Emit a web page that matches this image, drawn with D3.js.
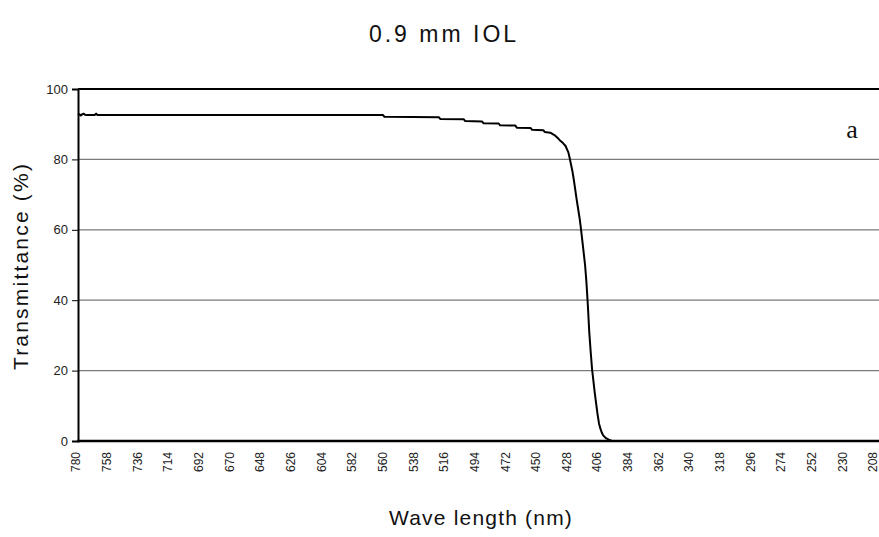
<!DOCTYPE html>
<html>
<head>
<meta charset="utf-8">
<script src="https://cdn.jsdelivr.net/npm/d3@7/dist/d3.min.js"></script>
<style>
  html, body { margin: 0; padding: 0; background: #fff; }
  svg { display: block; }
  text { font-family: "Liberation Sans", Arial, sans-serif; fill: #111; }
</style>
</head>
<body>
<svg id="chart" width="879" height="537"></svg>
<script>
const title = "0.9 mm IOL";
const xTitle = "Wave length (nm)";
const yTitle = "Transmittance (%)";
const panelLabel = "a";

const wavelength = [780, 779, 778, 777, 776, 775, 774, 770, 768, 767, 766, 600, 561, 560, 521, 520, 503, 502, 490, 489, 478, 477, 466, 465, 455, 454, 446, 445, 441, 438, 436, 434, 432, 430, 428, 427, 425, 424, 422, 420, 419, 418, 417, 416, 415, 414, 413, 412, 411, 410, 409, 408, 407, 406, 405, 404, 403, 401, 399, 397, 395, 205];
const transmittance = [93.0, 92.8, 92.5, 92.8, 93.0, 92.7, 92.6, 92.6, 92.6, 93.0, 92.6, 92.6, 92.6, 92.1, 92.0, 91.5, 91.4, 90.9, 90.8, 90.3, 90.2, 89.7, 89.6, 89.0, 88.9, 88.4, 88.3, 87.8, 87.6, 86.9, 86.2, 85.4, 84.7, 83.8, 82.0, 80.3, 76.5, 74.0, 68.5, 63.5, 60.5, 57.0, 53.5, 50.0, 45.0, 38.5, 31.0, 25.5, 20.5, 17.0, 13.5, 10.5, 7.5, 5.0, 3.5, 2.4, 1.6, 0.8, 0.4, 0.1, 0.0, 0.0];

const xTicks = d3.range(780, 200, -22);
const yTicks = [0, 20, 40, 60, 80, 100];

const svg = d3.select("#chart");
const pLeft = 78, pRight = 879, pTop = 89, pBottom = 441;

const x = d3.scaleLinear().domain([780, 205]).range([pLeft, pRight]);
const y = d3.scaleLinear().domain([0, 100]).range([pBottom, pTop]);

// gridlines
svg.append("g").selectAll("line").data(yTicks.filter(d => d > 0 && d < 100)).join("line")
  .attr("x1", pLeft).attr("x2", pRight).attr("y1", d => y(d)).attr("y2", d => y(d))
  .attr("stroke", "#7a7a7a").attr("stroke-width", 1.2);

// top border
svg.append("line").attr("x1", pLeft).attr("x2", pRight).attr("y1", y(100)).attr("y2", y(100))
  .attr("stroke", "#000").attr("stroke-width", 2);

// y axis
const yAxis = d3.axisLeft(y).tickValues(yTicks).tickSize(6).tickPadding(4);
const gy = svg.append("g").attr("transform", `translate(${pLeft},0)`).call(yAxis);
gy.select(".domain").attr("stroke", "#000").attr("stroke-width", 2);
gy.selectAll(".tick line").attr("stroke", "#000");
gy.selectAll(".tick text").style("font-size", "13px").style("fill", "#222")
  .style("font-family", "'Liberation Sans', Arial, sans-serif");

// x axis
const xAxis = d3.axisBottom(x).tickValues(xTicks).tickSize(0).tickPadding(0);
const gx = svg.append("g").attr("transform", `translate(0,${pBottom})`).call(xAxis);
gx.select(".domain").remove();
gx.selectAll(".tick text")
  .attr("transform", "rotate(-90)")
  .attr("x", -11).attr("y", -2).attr("dy", "0.33em")
  .style("text-anchor", "end")
  .style("font-size", "12px").style("fill", "#222")
  .style("font-family", "'Liberation Sans', Arial, sans-serif");
svg.append("line").attr("x1", pLeft - 1).attr("x2", pRight).attr("y1", pBottom).attr("y2", pBottom)
  .attr("stroke", "#000").attr("stroke-width", 2.4);

// curve
const pts = wavelength.map((w, i) => [w, transmittance[i]]);
svg.append("path").datum(pts)
  .attr("fill", "none").attr("stroke", "#000").attr("stroke-width", 2)
  .attr("stroke-linejoin", "round")
  .attr("d", d3.line().x(d => x(d[0])).y(d => y(d[1])));

// texts
svg.append("text").attr("x", 444).attr("y", 42).attr("text-anchor", "middle")
  .style("font-size", "23px").style("letter-spacing", "3px").text(title);
svg.append("text").attr("x", 481).attr("y", 525).attr("text-anchor", "middle")
  .style("font-size", "21px").style("letter-spacing", "1.2px").text(xTitle);
svg.append("text").attr("transform", "translate(28,266) rotate(-90)").attr("text-anchor", "middle")
  .style("font-size", "21px").style("letter-spacing", "2.2px").text(yTitle);
svg.append("text").attr("x", 852).attr("y", 138).attr("text-anchor", "middle")
  .style("font-family", "'Liberation Serif', 'Times New Roman', serif")
  .style("font-size", "26px").text(panelLabel);
</script>
</body>
</html>
